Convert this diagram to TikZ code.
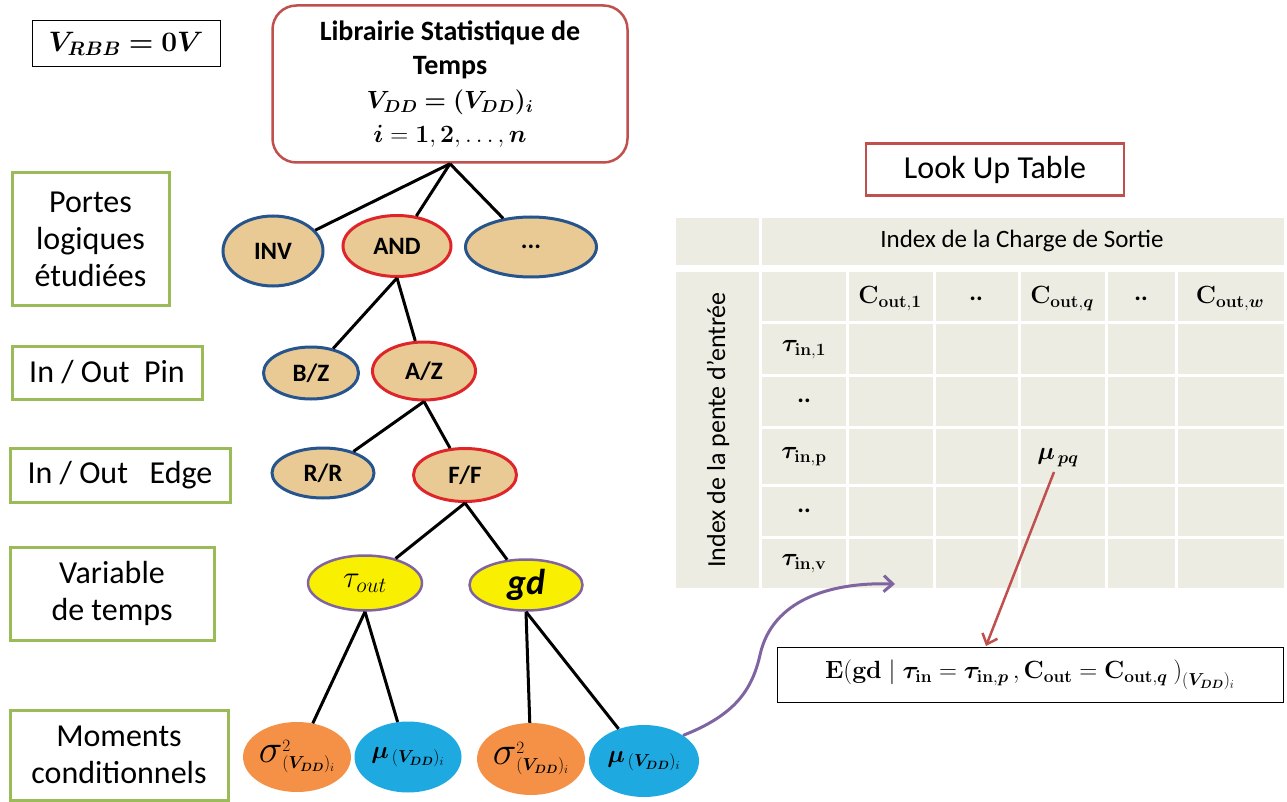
\documentclass[tikz,border=0pt]{standalone}
\usepackage{graphicx}
\usepackage{amsmath,bm}
\usepackage[no-math]{fontspec}
\setmainfont{Carlito}
\usetikzlibrary{arrows.meta,shapes.geometric}
\definecolor{grn}{RGB}{155,187,89}
\definecolor{dred}{RGB}{192,80,77}
\definecolor{bred}{RGB}{222,38,42}
\definecolor{dblue}{RGB}{38,84,140}
\definecolor{tanf}{RGB}{234,202,148}
\definecolor{yel}{RGB}{248,240,0}
\definecolor{purp}{RGB}{128,100,162}
\definecolor{org}{RGB}{244,145,70}
\definecolor{cyanb}{RGB}{30,170,225}
\definecolor{tbl}{RGB}{236,236,226}
\newcommand{\sigvdd}{$\raisebox{0pt}{\scalebox{1.6}{$\sigma$}}^{2}_{(\bm{V_{DD}})_i}$}
\begin{document}
\begin{tikzpicture}[x=1pt,y=-1pt,
  lab/.style={draw=grn, line width=3pt, align=center, inner sep=0pt, font=\fontsize{32}{37}\selectfont},
  ell/.style={ellipse, line width=3pt, fill=tanf, inner sep=0pt, font=\bfseries\fontsize{25}{25}\selectfont},
  bell/.style={ell, draw=dblue},
  rell/.style={ell, draw=bred},
  yell/.style={ellipse, line width=2.5pt, draw=purp, fill=yel, inner sep=0pt},
  oell/.style={ellipse, fill=org, inner sep=0pt},
  cell/.style={ellipse, fill=cyanb, inner sep=0pt},
  edge/.style={line width=3pt, black},
  tcell/.style={font=\fontsize{25}{25}\selectfont},
]
\useasboundingbox (0,0) rectangle (1287,802);
\fill[white] (0,0) rectangle (1287,802);

% top boxes
\node[draw=black, line width=1pt, minimum width=188pt, minimum height=46pt, inner sep=0pt] (vrbb) at (126,44)
  {\fontsize{25}{25}\selectfont \scalebox{1.13}{$\bm{V_{RBB}=0V}$}};
\node[draw=dred, line width=2.5pt, rounded corners=24pt, minimum width=355pt, minimum height=157pt,
  align=center, inner sep=0pt, font=\bfseries\fontsize{28}{34}\selectfont] (lib) at (450,84)
  {Librairie Statistique de\\Temps\\{\fontsize{25}{34}\selectfont$\bm{V_{DD}=(V_{DD})_i}$}\\{\fontsize{25}{34}\selectfont$\bm{i}=\mathbf{1},\mathbf{2},\ldots,\bm{n}$}};

% label boxes
\node[lab, minimum width=157pt, minimum height=132pt] (portes) at (90.5,239) {Portes\\logiques\\étudiées};
\node[lab, minimum width=190pt, minimum height=53pt] (pin) at (107,372.5) {In / Out\ \ Pin};
\node[lab, minimum width=220pt, minimum height=54pt] (edgeb) at (120,475) {In / Out\ \ \ Edge};
\node[lab, minimum width=204pt, minimum height=93pt] (var) at (112,593.5) {Variable\\de temps};
\node[lab, minimum width=218pt, minimum height=90pt] (mom) at (119,755) {Moments\\conditionnels};

% tree nodes
\node[bell, minimum width=100pt, minimum height=70pt] (inv) at (273,251) {INV};
\node[rell, minimum width=108pt, minimum height=61pt] (and) at (397,246) {AND};
\node[bell, minimum width=131pt, minimum height=60pt] (dots) at (531,247) {...};
\node[bell, minimum width=95pt, minimum height=52pt] (bz) at (311,373) {B/Z};
\node[rell, minimum width=103pt, minimum height=58pt] (az) at (424,371) {A/Z};
\node[bell, minimum width=102pt, minimum height=50pt] (rr) at (323,473) {R/R};
\node[rell, minimum width=103pt, minimum height=53pt] (ff) at (465,475) {F/F};
\node[yell, minimum width=114pt, minimum height=55pt] (tau) at (365,583) {\fontsize{25}{25}\selectfont $\scalebox{1.25}{$\tau_{out}$}$};
\node[yell, minimum width=113pt, minimum height=51pt] (gd) at (526,585) {\bfseries\itshape\fontsize{36}{36}\selectfont gd};
\node[oell, minimum width=107pt, minimum height=70pt] (s1) at (297,757) {\fontsize{25}{25}\selectfont \sigvdd};
\node[cell, minimum width=107pt, minimum height=71pt] (m1) at (408,757) {\fontsize{25}{25}\selectfont $\bm{\mu}_{\,(\bm{V_{DD}})_i}$};
\node[oell, minimum width=95pt, minimum height=72pt] (s2) at (531,759) {\fontsize{25}{25}\selectfont \sigvdd};
\node[cell, minimum width=110pt, minimum height=72pt] (m2) at (644,761) {\fontsize{25}{25}\selectfont $\bm{\mu}_{\,(\bm{V_{DD}})_i}$};

\draw[edge] (lib.south) -- (inv);
\draw[edge] (lib.south) -- (and);
\draw[edge] (lib.south) -- (dots);
\draw[edge] (and.south) -- (bz);
\draw[edge] (and.south) -- (az);
\draw[edge] (az.south) -- (rr);
\draw[edge] (az.south) -- (ff);
\draw[edge] (ff.south) -- (tau);
\draw[edge] (ff.south) -- (gd);
\draw[edge] (tau.south) -- (s1);
\draw[edge] (tau.south) -- (m1);
\draw[edge] (gd.south) -- (s2);
\draw[edge] (gd.south) -- (m2);

% look up table
\node[draw=dred, line width=2.5pt, minimum width=258pt, minimum height=52pt, inner sep=0pt] (lut) at (995,169.5)
  {\fontsize{32}{32}\selectfont Look Up Table};
\fill[tbl] (676,218) rectangle (1284,265);
\fill[tbl] (676,272) rectangle (1284,588);
\begin{scope}[white, line width=3pt]
  \draw (760,218) -- (760,588);
  \foreach \x in {847,934,1019,1106,1176} \draw (\x,272) -- (\x,588);
  \foreach \y in {322,375,427,485,537} \draw (760,\y) -- (1284,\y);
\end{scope}
\node[font=\fontsize{25}{25}\selectfont] (hdr) at (1022,241) {Index de la Charge de Sortie};
\node[rotate=90, font=\fontsize{26}{26}\selectfont] (vhdr) at (718,430) {Index de la pente d’entrée};
\node[tcell] (c1) at (890,299) {$\mathbf{C}_{\mathbf{out},\mathbf{1}}$};
\node[tcell] (d1) at (976,299) {\textbf{..}};
\node[tcell] (cq) at (1062,299) {$\mathbf{C}_{\mathbf{out},\bm{q}}$};
\node[tcell] (d2) at (1141,299) {\textbf{..}};
\node[tcell] (cw) at (1230,299) {$\mathbf{C}_{\mathbf{out},\bm{w}}$};
\node[tcell] (t1) at (804,350) {$\bm{\tau}_{\mathbf{in},\mathbf{1}}$};
\node[tcell] (d3) at (804,401) {\textbf{..}};
\node[tcell] (tp) at (804,457) {$\bm{\tau}_{\mathbf{in},\mathbf{p}}$};
\node[tcell] (d4) at (804,511) {\textbf{..}};
\node[tcell] (tv) at (804,564) {$\bm{\tau}_{\mathbf{in},\mathbf{v}}$};
\node[tcell] (mupq) at (1058,458) {$\bm{\mu}_{\,\bm{pq}}$};

% result box
\node[draw=black, line width=1pt, minimum width=506pt, minimum height=55pt, inner sep=0pt] (ebox) at (1030,675)
  {\fontsize{25}{25}\selectfont $\mathbf{E(gd}\mid\bm{\tau}_{\mathbf{in}}=\bm{\tau}_{\mathbf{in},\bm{p}}\,\mathbf{,}\,\mathbf{C}_{\mathbf{out}}=\mathbf{C}_{\mathbf{out},\bm{q}}\ \mathbf{)}_{(\bm{V_{DD}})_i}$};

% arrows
\coordinate (rs) at (1054,472);
\coordinate (et) at (986,646);
\draw[dred, line width=2.5pt, -{Straight Barb[length=9pt,width=16pt]}] (rs) -- (et);
\coordinate (pm) at (760,655);
\coordinate (pt) at (895,584);
\draw[purp, line width=3pt, -{Straight Barb[length=9pt,width=16pt]}] (m2.north east) .. controls (735,715) and (752,690) .. (pm) .. controls (772,600) and (830,582) .. (pt);
\end{tikzpicture}
\end{document}
